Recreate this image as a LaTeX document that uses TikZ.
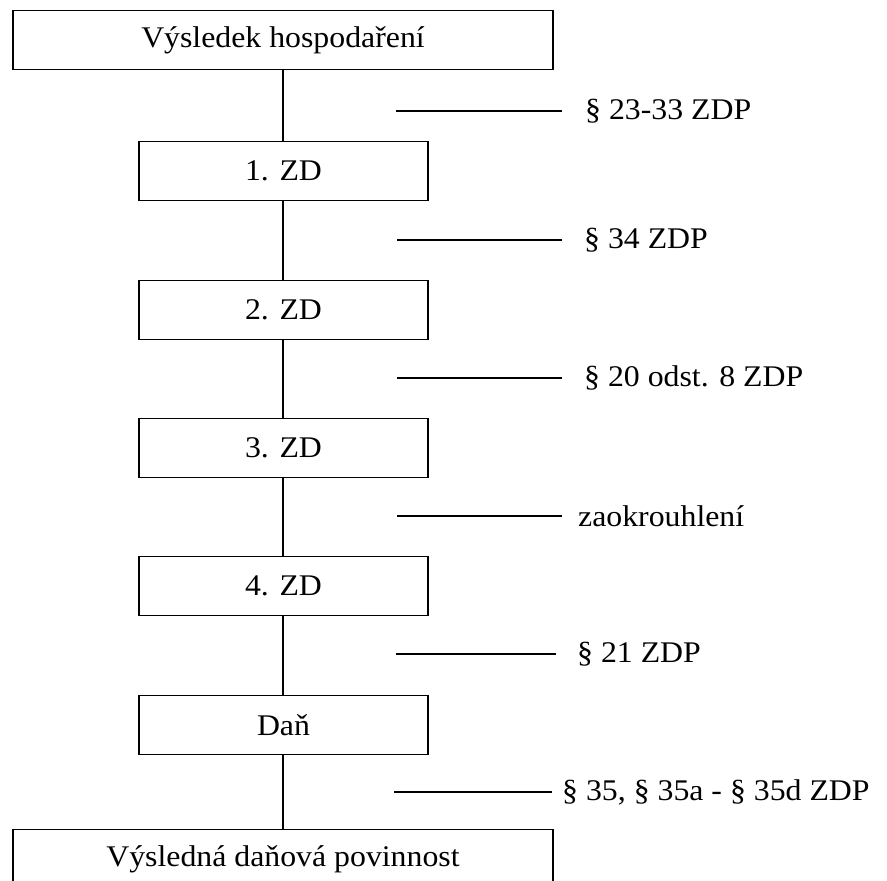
\documentclass[tikz,border=0pt]{standalone}
\usepackage{fontspec}
\setmainfont{Liberation Serif}[FakeStretch=1.06]
\tikzset{
  krok/.style={draw, line width=1.5pt, minimum height=59pt, inner sep=0pt, font=\fontsize{30}{34}\selectfont},
  pravo/.style={anchor=west, inner sep=0pt, font=\fontsize{30}{34}\selectfont},
  spoj/.style={line width=1.5pt}
}
\begin{document}
\begin{tikzpicture}[x=1pt,y=-1pt]
% Picture size
\clip (0,0) rectangle (887,881);
\fill[white] (0,0) rectangle (887,881);

% Boxes of the calculation
\node[krok, minimum width=540pt] (vh) at (283,40) {Výsledek hospodaření};
\node[krok, minimum width=289pt] (zd1) at (283.5,171) {1. ZD};
\node[krok, minimum width=289pt] (zd2) at (283.5,310) {2. ZD};
\node[krok, minimum width=289pt] (zd3) at (283.5,448) {3. ZD};
\node[krok, minimum width=289pt] (zd4) at (283.5,586) {4. ZD};
\node[krok, minimum width=289pt] (dan) at (283.5,725) {Daň};
\node[krok, minimum width=540pt] (vdp) at (283,859) {Výsledná daňová povinnost};

% Vertical links
\draw[spoj] (vh.south -| 283,0) -- (zd1.north -| 283,0);
\draw[spoj] (zd1.south -| 283,0) -- (zd2.north -| 283,0);
\draw[spoj] (zd2.south -| 283,0) -- (zd3.north -| 283,0);
\draw[spoj] (zd3.south -| 283,0) -- (zd4.north -| 283,0);
\draw[spoj] (zd4.south -| 283,0) -- (dan.north -| 283,0);
\draw[spoj] (dan.south -| 283,0) -- (vdp.north -| 283,0);

% Legal references
\node[pravo] (p1) at (585,111) {§ 23-33 ZDP};
\node[pravo] (p2) at (584,240) {§ 34 ZDP};
\node[pravo] (p3) at (584,378) {§ 20 odst. 8 ZDP};
\node[pravo] (p4) at (578,516) {zaokrouhlení};
\node[pravo] (p5) at (577,654) {§ 21 ZDP};
\node[pravo] (p6) at (562,792) {§ 35, § 35a - § 35d ZDP};

\coordinate (c1) at (396,111);
\coordinate (c2) at (397,240);
\coordinate (c3) at (397,378);
\coordinate (c4) at (397,516);
\coordinate (c5) at (396,654);
\coordinate (c6) at (394,792);
\draw[spoj] (c1) -- ([xshift=-23pt]p1.west);
\draw[spoj] (c2) -- ([xshift=-22pt]p2.west);
\draw[spoj] (c3) -- ([xshift=-22pt]p3.west);
\draw[spoj] (c4) -- ([xshift=-16pt]p4.west);
\draw[spoj] (c5) -- ([xshift=-21pt]p5.west);
\draw[spoj] (c6) -- ([xshift=-10pt]p6.west);
\end{tikzpicture}
\end{document}
